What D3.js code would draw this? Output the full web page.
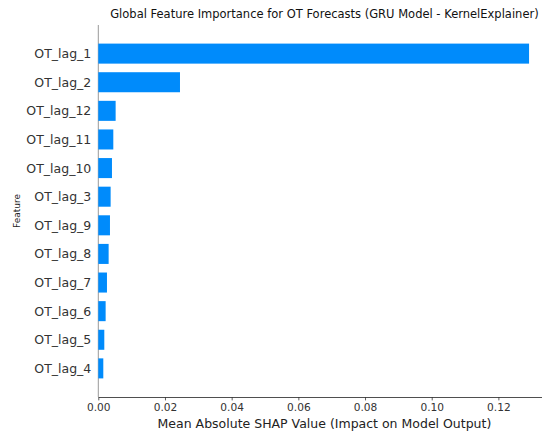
<!DOCTYPE html>
<html>
<head>
<meta charset="utf-8">
<script src="https://cdn.jsdelivr.net/npm/d3@7"></script>
<style>
	body { margin: 0; background: #fff; }
	svg { display: block; font-family: "DejaVu Sans", sans-serif; }
</style>
</head>
<body>
<svg width="542" height="432"></svg>
<script>
// features top to bottom, with mean |SHAP|
let features = ['OT_lag_1', 'OT_lag_2', 'OT_lag_12', 'OT_lag_11', 'OT_lag_10', 'OT_lag_3',
	'OT_lag_9', 'OT_lag_8', 'OT_lag_7', 'OT_lag_6', 'OT_lag_5', 'OT_lag_4']
let importance = [0.1292, 0.0245, 0.0052, 0.0045, 0.0041, 0.0037,
	0.0035, 0.0031, 0.0026, 0.0022, 0.0018, 0.0015]
let xTicks = [0, 0.02, 0.04, 0.06, 0.08, 0.10, 0.12]

let titleText = 'Global Feature Importance for OT Forecasts (GRU Model - KernelExplainer)'
let xLabelText = 'Mean Absolute SHAP Value (Impact on Model Output)'
let yLabelText = 'Feature'

let blue = '#008bfb'
let axisColor = '#333333'

let plotLeft = 98.3, plotRight = 550.6, plotTop = 25, plotBottom = 397
let n = features.length

let svg = d3.select('svg')

let x = d3.scaleLinear()
	.domain([0, d3.max(importance) * 1.05])
	.range([plotLeft, plotRight])

// matplotlib style: row i sits at position n-1-i, ylim(-1, n)
let y = d3.scaleLinear()
	.domain([-1, n])
	.range([plotBottom, plotTop])
let pos = i => n - 1 - i
let barH = y(0) - y(0.7)

// zero line
svg.append('line')
	.attr('x1', x(0)).attr('x2', x(0))
	.attr('y1', plotTop).attr('y2', plotBottom)
	.attr('stroke', '#999999')
	.attr('stroke-width', 1)

svg.append('g')
	.selectAll('rect')
	.data(importance)
	.join('rect')
	.attr('x', x(0))
	.attr('y', (d, i) => y(pos(i)) - barH / 2)
	.attr('width', d => x(d) - x(0))
	.attr('height', barH)
	.attr('fill', blue)

// feature names
svg.append('g')
	.selectAll('text')
	.data(features)
	.join('text')
	.attr('x', plotLeft - 7)
	.attr('y', (d, i) => y(pos(i)))
	.attr('dy', '0.36em')
	.attr('text-anchor', 'end')
	.attr('font-size', 12.5)
	.attr('fill', axisColor)
	.text(d => d)

// bottom axis
let xAxis = d3.axisBottom(x)
	.tickValues(xTicks)
	.tickFormat(d3.format('.2f'))
	.tickSize(3.4)
	.tickPadding(3.4)
	.tickSizeOuter(0)

let gx = svg.append('g')
	.attr('transform', 'translate(0,' + plotBottom + ')')
	.call(xAxis)
gx.select('.domain').attr('stroke', '#222').attr('stroke-width', 0.8)
gx.selectAll('.tick line').attr('stroke', axisColor).attr('stroke-width', 0.8)
gx.selectAll('.tick text')
	.attr('fill', axisColor)
	.attr('font-size', 10.6)
	.attr('font-family', '"DejaVu Sans", sans-serif')

svg.append('text')
	.attr('x', (plotLeft + plotRight) / 2)
	.attr('y', 428)
	.attr('text-anchor', 'middle')
	.attr('font-size', 12.5)
	.attr('fill', '#222')
	.text(xLabelText)

svg.append('text')
	.attr('transform', 'translate(19.5,' + (plotTop + plotBottom) / 2 + ') rotate(-90)')
	.attr('text-anchor', 'middle')
	.attr('font-size', 9)
	.attr('fill', '#222')
	.text(yLabelText)

svg.append('text')
	.attr('x', (plotLeft + plotRight) / 2)
	.attr('y', 17.5)
	.attr('text-anchor', 'middle')
	.attr('font-size', 11.5)
	.attr('fill', '#111')
	.text(titleText)
</script>
</body>
</html>
